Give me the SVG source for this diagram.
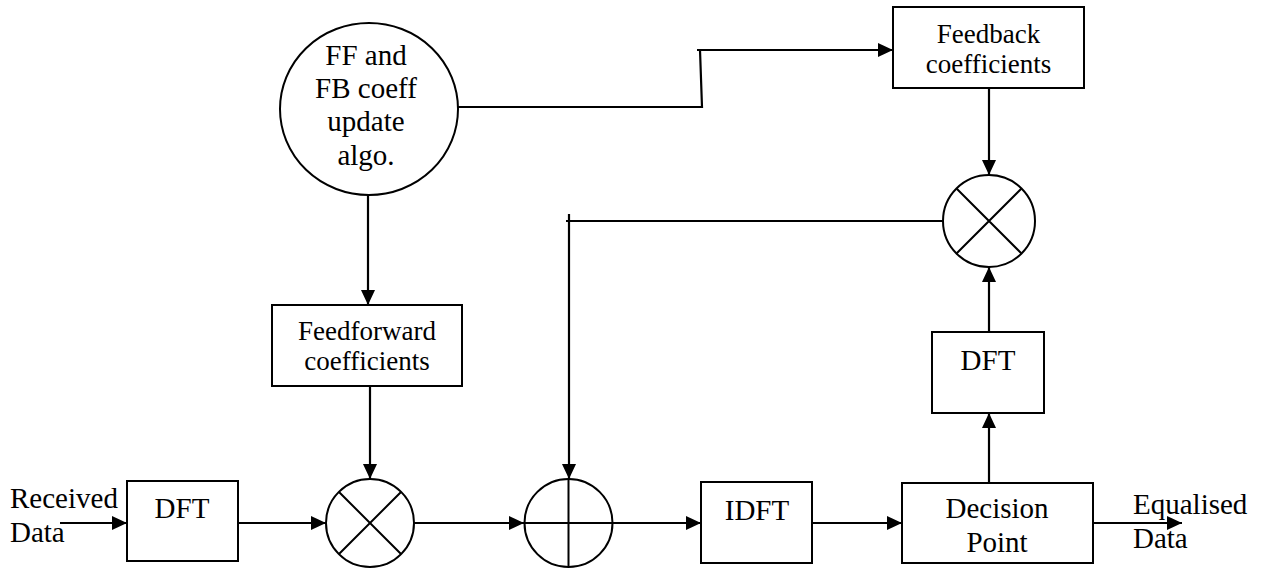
<svg xmlns="http://www.w3.org/2000/svg" width="1266" height="568" viewBox="0 0 1266 568" font-family="'Liberation Serif', 'Times New Roman', serif">
<style>
.box{fill:#fff;stroke:#000;stroke-width:2}
.ln{fill:none;stroke:#000;stroke-width:2}
.c{stroke:#000;stroke-width:2.2;fill:none}
text{font-family:"Liberation Serif","Times New Roman",serif;fill:#000}
.t29{font-size:29px;text-anchor:middle}
.t27{font-size:27px;text-anchor:middle}
.l29{font-size:29px}
</style>
<defs>
<marker id="ah" viewBox="0 0 15 14" refX="15" refY="7" markerWidth="15" markerHeight="14" markerUnits="userSpaceOnUse" orient="auto">
<path d="M0,0 L15,7 L0,14 z" fill="#000"/>
</marker>
</defs>
<g id="connectors">
<path class="c" d="M60,523 H127" marker-end="url(#ah)"/>
<path class="c" d="M238,523 H326" marker-end="url(#ah)"/>
<path class="c" d="M414,523 H524" marker-end="url(#ah)"/>
<path class="c" d="M613,523 H701" marker-end="url(#ah)"/>
<path class="c" d="M812,523 H902" marker-end="url(#ah)"/>
<path class="c" d="M1093,523 H1182" marker-end="url(#ah)"/>
<path class="c" d="M989,483 V413" marker-end="url(#ah)"/>
<path class="c" d="M989,332 V267" marker-end="url(#ah)"/>
<path class="c" d="M989,88 V175" marker-end="url(#ah)"/>
<path class="c" d="M943,221 H566"/>
<path class="c" d="M569,214 V479" marker-end="url(#ah)"/>
<path class="c" d="M368,195 V305" marker-end="url(#ah)"/>
<path class="c" d="M370,386 V479" marker-end="url(#ah)"/>
<path class="c" d="M458,107 H702 L700,50"/>
<path class="c" d="M697,50 H893" marker-end="url(#ah)"/>
</g>
<g id="update-algo">
<ellipse class="box" cx="369" cy="109" rx="89" ry="86"/>
<text class="t29" x="366" y="65">FF and</text>
<text class="t29" x="366" y="98">FB coeff</text>
<text class="t29" x="366" y="131">update</text>
<text class="t29" x="366" y="165">algo.</text>
</g>
<g id="feedback-coeff">
<rect class="box" x="893" y="7" width="191" height="81"/>
<text class="t27" x="988.5" y="43">Feedback</text>
<text class="t27" x="988.5" y="73">coefficients</text>
</g>
<g id="feedforward-coeff">
<rect class="box" x="272" y="305" width="190" height="81"/>
<text class="t27" x="367" y="340">Feedforward</text>
<text class="t27" x="367" y="370">coefficients</text>
</g>
<g id="mult-fb">
<circle class="box" cx="989" cy="221" r="46"/>
<path class="ln" d="M956.5,188.5 L1021.5,253.5 M1021.5,188.5 L956.5,253.5"/>
</g>
<g id="dft-fb">
<rect class="box" x="932" y="332" width="112" height="81"/>
<text class="t29" x="988" y="370">DFT</text>
</g>
<g id="received-label">
<text class="l29" x="10" y="508">Received</text>
<text class="l29" x="10" y="542">Data</text>
</g>
<g id="dft-in">
<rect class="box" x="127" y="481" width="111" height="80"/>
<text class="t29" x="182" y="518">DFT</text>
</g>
<g id="mult-ff">
<circle class="box" cx="370" cy="523" r="44"/>
<path class="ln" d="M339,492 L401,554 M401,492 L339,554"/>
</g>
<g id="adder">
<circle class="box" cx="568.5" cy="523" r="44"/>
<path class="ln" d="M524.5,523 H612.5 M568.5,479 V567"/>
</g>
<g id="idft">
<rect class="box" x="701" y="482" width="111" height="81"/>
<text class="t29" x="757" y="520">IDFT</text>
</g>
<g id="decision">
<rect class="box" x="902" y="483" width="191" height="80"/>
<text class="t29" x="997" y="518">Decision</text>
<text class="t29" x="997" y="552">Point</text>
</g>
<g id="equalised-label">
<text class="l29" x="1133" y="514">Equalised</text>
<text class="l29" x="1133" y="548">Data</text>
</g>
</svg>
